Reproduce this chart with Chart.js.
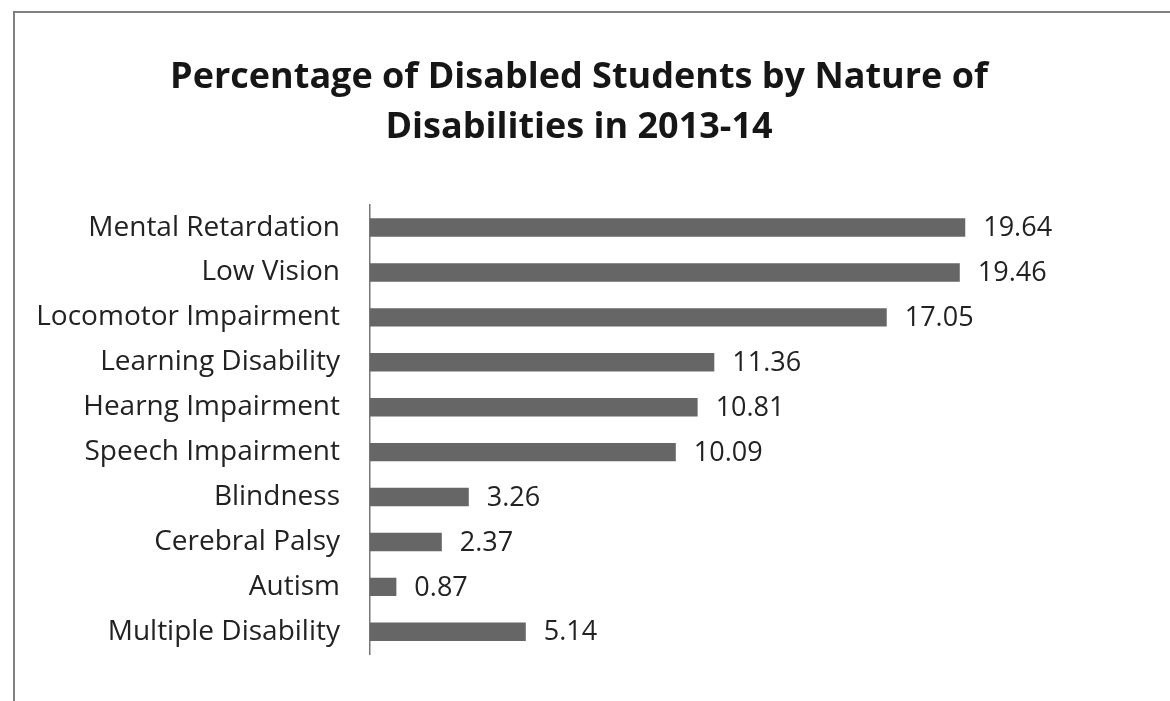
<!DOCTYPE html>
<html>
<head>
<meta charset="utf-8">
<script src="https://cdn.jsdelivr.net/npm/chart.js@4"></script>
<style>
  html, body { margin: 0; padding: 0; background: #fff; }
  #wrap { position: relative; width: 1170px; height: 701px; }
  #frame { position: absolute; left: 13px; top: 11px; right: 0; bottom: 0;
           border-top: 2px solid #808080; border-left: 2px solid #808080; }
  canvas { position: absolute; left: 0; top: 0; }
</style>
</head>
<body>
<div id="wrap">
  <div id="frame"></div>
  <canvas id="chart" width="1170" height="701"></canvas>
</div>
<script>
const categories = ['Mental Retardation', 'Low Vision', 'Locomotor Impairment', 'Learning Disability',
  'Hearng Impairment', 'Speech Impairment', 'Blindness', 'Cerebral Palsy', 'Autism', 'Multiple Disability'];
const percentages = [19.64, 19.46, 17.05, 11.36, 10.81, 10.09, 3.26, 2.37, 0.87, 5.14];
const valueLabels = ['19.64', '19.46', '17.05', '11.36', '10.81', '10.09', '3.26', '2.37', '0.87', '5.14'];

// numbers to the right of each bar
const barValues = {
  id: 'barValues',
  afterDatasetsDraw(chart) {
    const c = chart.ctx;
    const meta = chart.getDatasetMeta(0);
    c.save();
    c.font = '27px "Open Sans"';
    c.fillStyle = '#222';
    c.textAlign = 'left';
    c.textBaseline = 'middle';
    meta.data.forEach((bar, i) => {
      c.fillText(valueLabels[i], bar.x + 18, bar.y + 1);
    });
    c.restore();
  }
};

new Chart(document.getElementById('chart'), {
  type: 'bar',
  data: {
    labels: categories,
    datasets: [{
      data: percentages,
      backgroundColor: '#666666',
      borderWidth: 0,
      categoryPercentage: 1,
      barPercentage: 0.41
    }]
  },
  options: {
    indexAxis: 'y',
    responsive: false,
    animation: false,
    layout: { padding: { top: 0, bottom: 42, left: 0, right: 12 } },
    plugins: {
      legend: { display: false },
      tooltip: { enabled: false },
      title: {
        display: true,
        text: ['Percentage of Disabled Students by Nature of', 'Disabilities in 2013-14'],
        color: '#161616',
        font: { family: 'Open Sans', size: 36, weight: 'bold', lineHeight: 1.39 },
        padding: { top: 53, bottom: 52 }
      }
    },
    scales: {
      x: { display: false, min: 0, max: 26 },
      y: {
        afterFit(scale) { scale.width = 370; },
        grid: { display: false, drawTicks: false },
        border: { display: true, color: '#777', width: 1.5 },
        ticks: { color: '#222', padding: 30, font: { family: 'Open Sans', size: 28 } }
      }
    }
  },
  plugins: [barValues]
});
</script>
</body>
</html>
